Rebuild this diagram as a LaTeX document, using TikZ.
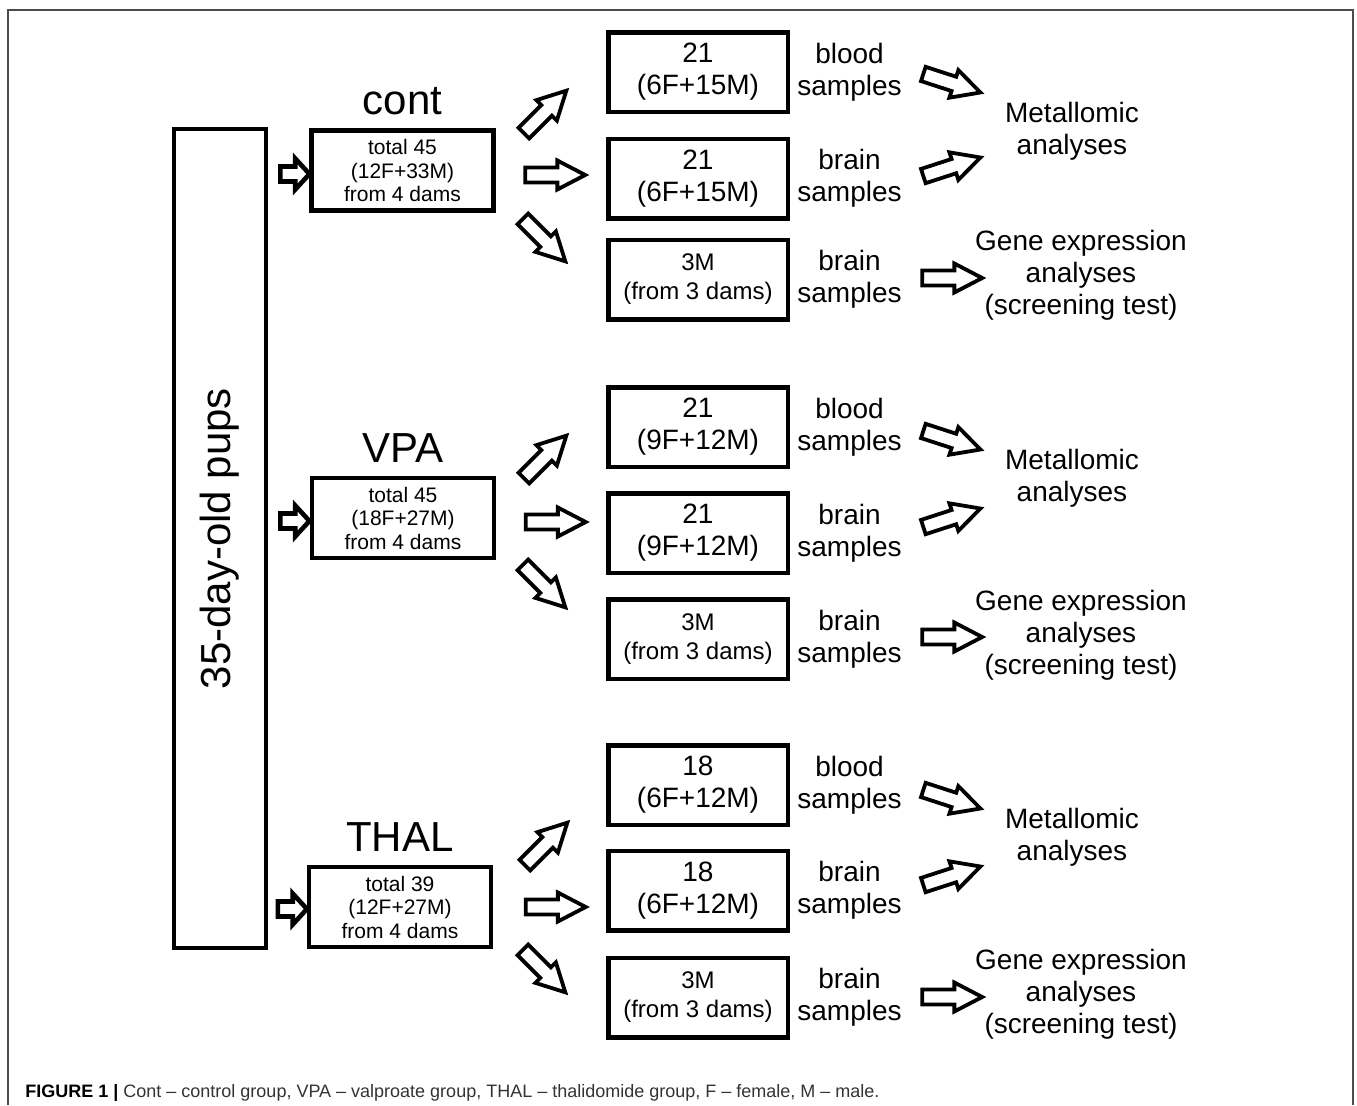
\documentclass[tikz,border=0pt]{standalone}
\usepackage{fontspec}
\setmainfont{Liberation Sans}
\usepackage{tikz}
\usetikzlibrary{positioning,shapes.arrows}
\definecolor{framecol}{gray}{0.3}
\tikzset{
  pupbox/.style  = {draw, line width=2pt, rotate=90, minimum width=409.5pt, minimum height=46pt, font=\fontsize{21}{25}\selectfont},
  grpbox/.style  = {draw, line width=2.25pt, align=center, inner sep=0pt, minimum width=91pt, minimum height=40pt, font=\fontsize{10.5}{11.75}\selectfont},
  grplbl/.style  = {inner sep=0pt, text depth=0pt, font=\fontsize{21}{25}\selectfont},
  smpbox/.style  = {draw, line width=2.25pt, align=center, inner sep=0pt, minimum width=89.75pt, minimum height=39.75pt, font=\fontsize{14}{16}\selectfont},
  smpbox3/.style = {smpbox, font=\fontsize{12}{14.5}\selectfont},
  smplbl/.style  = {align=center, inner sep=0pt, font=\fontsize{14}{16}\selectfont},
  barrow/.style  = {single arrow, draw, fill=white, line width=1.9pt, inner xsep=0pt, inner ysep=2.8pt, minimum height=30pt, minimum width=12.6pt, single arrow head extend=3.5pt, single arrow tip angle=55},
  sarrow/.style  = {barrow, line width=2.3pt, inner ysep=2.6pt, minimum height=14.5pt, minimum width=13.2pt, single arrow head extend=4pt, single arrow tip angle=95}
}
\begin{document}
\begin{tikzpicture}[x=0.5pt, y=-0.5pt]
  \useasboundingbox (0,0) rectangle (1357,1105);
  \draw[framecol, line width=0.6pt] (8,1105) |- (1353,10) -- (1353,1105);

  \node[pupbox] (pups) at (220,538.5) {35-day-old pups};

  % control group
  \node[grpbox] (contbox) at (402.5,170.5) {total 45\\(12F+33M)\\from 4 dams};
  \node[grplbl, above=6.5pt of contbox] (contlbl) {cont};
  \node[smpbox] (cont1) at (698,72) {21\\(6F+15M)};
  \node[smpbox] (cont2) at (698,178.5) {21\\(6F+15M)};
  \node[smpbox3] (cont3) at (698,279.5) {3M\\(from 3 dams)};
  \node[smplbl, right=3.5pt of cont1] (contsmp1) {blood\\samples};
  \node[smplbl, right=3.5pt of cont2] (contsmp2) {brain\\samples};
  \node[smplbl, right=3.5pt of cont3] (contsmp3) {brain\\samples};
  \node[smplbl] (contmet) at (1072,131) {Metallomic\\analyses};
  \node[smplbl] (contgene) at (1081,275) {Gene expression\\analyses\\(screening test)};
  \node[sarrow] (contin) at (291.5,174) {};
  \node[barrow, rotate=45] (contup) at (540,117) {};
  \node[barrow] (contmid) at (548,175) {};
  \node[barrow, rotate=-45] (contdown) at (539,235) {};
  \node[barrow, rotate=-18] (contr1) at (945,81) {};
  \node[barrow, rotate=18] (contr2) at (945,169) {};
  \node[barrow] (contr3) at (945,278) {};

  % valproate group
  \node[grpbox] (vpabox) at (403,518) {total 45\\(18F+27M)\\from 4 dams};
  \node[grplbl, above=6.5pt of vpabox] (vpalbl) {VPA};
  \node[smpbox] (vpa1) at (698,427) {21\\(9F+12M)};
  \node[smpbox] (vpa2) at (698,533) {21\\(9F+12M)};
  \node[smpbox3] (vpa3) at (698,639) {3M\\(from 3 dams)};
  \node[smplbl, right=3.5pt of vpa1] (vpasmp1) {blood\\samples};
  \node[smplbl, right=3.5pt of vpa2] (vpasmp2) {brain\\samples};
  \node[smplbl, right=3.5pt of vpa3] (vpasmp3) {brain\\samples};
  \node[smplbl] (vpamet) at (1072,478) {Metallomic\\analyses};
  \node[smplbl] (vpagene) at (1081,635) {Gene expression\\analyses\\(screening test)};
  \node[sarrow] (vpain) at (291.5,521) {};
  \node[barrow, rotate=45] (vpaup) at (540,462) {};
  \node[barrow] (vpamid) at (548.5,522) {};
  \node[barrow, rotate=-45] (vpadown) at (539,581) {};
  \node[barrow, rotate=-18] (vpar1) at (945,438) {};
  \node[barrow, rotate=18] (vpar2) at (945,520) {};
  \node[barrow] (vpar3) at (945,637) {};

  % thalidomide group
  \node[grpbox] (thalbox) at (400,907) {total 39\\(12F+27M)\\from 4 dams};
  \node[grplbl, above=6.5pt of thalbox] (thallbl) {THAL};
  \node[smpbox] (thal1) at (698,785) {18\\(6F+12M)};
  \node[smpbox] (thal2) at (698,890.5) {18\\(6F+12M)};
  \node[smpbox3] (thal3) at (698,997.5) {3M\\(from 3 dams)};
  \node[smplbl, right=3.5pt of thal1] (thalsmp1) {blood\\samples};
  \node[smplbl, right=3.5pt of thal2] (thalsmp2) {brain\\samples};
  \node[smplbl, right=3.5pt of thal3] (thalsmp3) {brain\\samples};
  \node[smplbl] (thalmet) at (1072,837) {Metallomic\\analyses};
  \node[smplbl] (thalgene) at (1081,994) {Gene expression\\analyses\\(screening test)};
  \node[sarrow] (thalin) at (289,909) {};
  \node[barrow, rotate=45] (thalup) at (541,849) {};
  \node[barrow] (thalmid) at (548.5,907) {};
  \node[barrow, rotate=-45] (thaldown) at (539,966) {};
  \node[barrow, rotate=-18] (thalr1) at (945,797) {};
  \node[barrow, rotate=18] (thalr2) at (945,878) {};
  \node[barrow] (thalr3) at (945,997) {};

  \node[anchor=base west, inner sep=0pt, text=black!80, font=\fontsize{9}{11}\selectfont] (caption) at (25,1097)
    {\textcolor{black}{\bfseries FIGURE 1 |} Cont – control group, VPA – valproate group, THAL – thalidomide group, F – female, M – male.};
\end{tikzpicture}
\end{document}
